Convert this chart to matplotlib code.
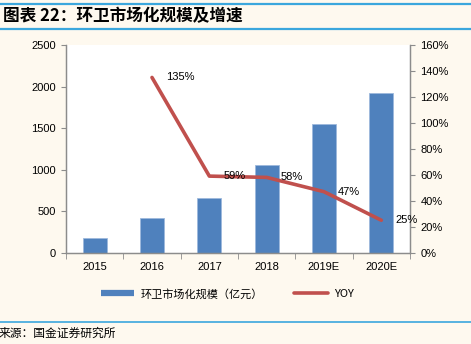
import matplotlib.pyplot as plt
from matplotlib.lines import Line2D
import numpy as np

plt.rcParams['font.family'] = ['Liberation Sans', 'Noto Sans CJK SC', 'DejaVu Sans']

# data
years = ["2015", "2016", "2017", "2018", "2019E", "2020E"]
market_size = [180, 412, 660, 1052, 1548, 1928]
yoy = [np.nan, 1.35, 0.59, 0.58, 0.47, 0.25]
yoy_labels = ["", "135%", "59%", "58%", "47%", "25%"]

bar_color = "#4F81BD"
line_color = "#C0504D"
bg = "#FEF9EF"
rule_color = "#3BA7DD"
axis_color = "#8C8C8C"
cjk = ["Noto Sans CJK SC", "DejaVu Sans"]

W, H = 471, 344
fig = plt.figure(figsize=(W / 100, H / 100), dpi=100, facecolor=bg)

# title band with blue rules
fig.add_artist(Line2D([0, 1], [1 - 3.5 / H, 1 - 3.5 / H], color=rule_color, lw=1.6))
fig.add_artist(Line2D([0, 1], [1 - 29 / H, 1 - 29 / H], color=rule_color, lw=1.6))
fig.text(3 / W, 1 - 16 / H, "图表 22：环卫市场化规模及增速", fontsize=12,
         fontweight="bold", style="italic", family=cjk, va="center", ha="left")

# source line
fig.add_artist(Line2D([0, 1], [1 - 322 / H, 1 - 322 / H], color=rule_color, lw=1.2))
fig.text(-1 / W, 1 - 333 / H, "来源：国金证券研究所", fontsize=8.5,
         family=cjk, va="center", ha="left")

left, right, top, bottom = 66, 410, 45, 252.7
ax = fig.add_axes([left / W, 1 - bottom / H, (right - left) / W, (bottom - top) / H])
ax.set_facecolor("white")

x = np.arange(len(years))
ax.bar(x, market_size, width=0.42, color=bar_color, edgecolor="#9DB9DC", linewidth=0.6, zorder=2)
ax.set_xlim(-0.5, len(years) - 0.5)
ax.set_ylim(0, 2500)
ax.set_yticks(np.arange(0, 2501, 500))
ax.set_xticks(x)
ax.set_xticklabels(years)
ax.set_xticks(np.arange(-0.5, len(years), 1.0), minor=True)
ax.tick_params(axis="x", which="major", length=0, pad=7, labelsize=8)
ax.tick_params(axis="x", which="minor", length=4, color=axis_color, direction="out")
ax.tick_params(axis="y", length=3.5, color=axis_color, labelsize=8, pad=4)

ax2 = ax.twinx()
ax2.plot(x, yoy, color=line_color, lw=2.6, solid_capstyle="round", zorder=3)
for xi, v, lab in zip(x, yoy, yoy_labels):
    if lab:
        ax2.annotate(lab, (xi, v), xytext=(10, 0), textcoords="offset points",
                     fontsize=8, va="center", ha="left")
ax2.set_ylim(0, 1.6)
ax2.set_yticks(np.arange(0, 1.61, 0.2))
ax2.set_yticklabels([f"{int(round(t * 100))}%" for t in np.arange(0, 1.61, 0.2)])
ax2.tick_params(axis="y", length=3.5, color=axis_color, labelsize=8, pad=4)

for a in (ax, ax2):
    a.spines["top"].set_visible(False)
    for s in ("left", "right", "bottom"):
        a.spines[s].set_color(axis_color)
        a.spines[s].set_linewidth(0.9)

handles = [Line2D([0], [0], color=bar_color, lw=4.5, solid_capstyle="butt"),
           Line2D([0], [0], color=line_color, lw=2.6, solid_capstyle="round")]
fig.legend(handles, ["环卫市场化规模（亿元）", "YOY"], loc="center",
           bbox_to_anchor=(0.483, 1 - 294 / H), ncol=2, frameon=False,
           handlelength=3.0, handletextpad=0.6, columnspacing=2.8,
           prop={"family": cjk, "size": 8})

fig.savefig("out.png", dpi=100, facecolor=bg)
